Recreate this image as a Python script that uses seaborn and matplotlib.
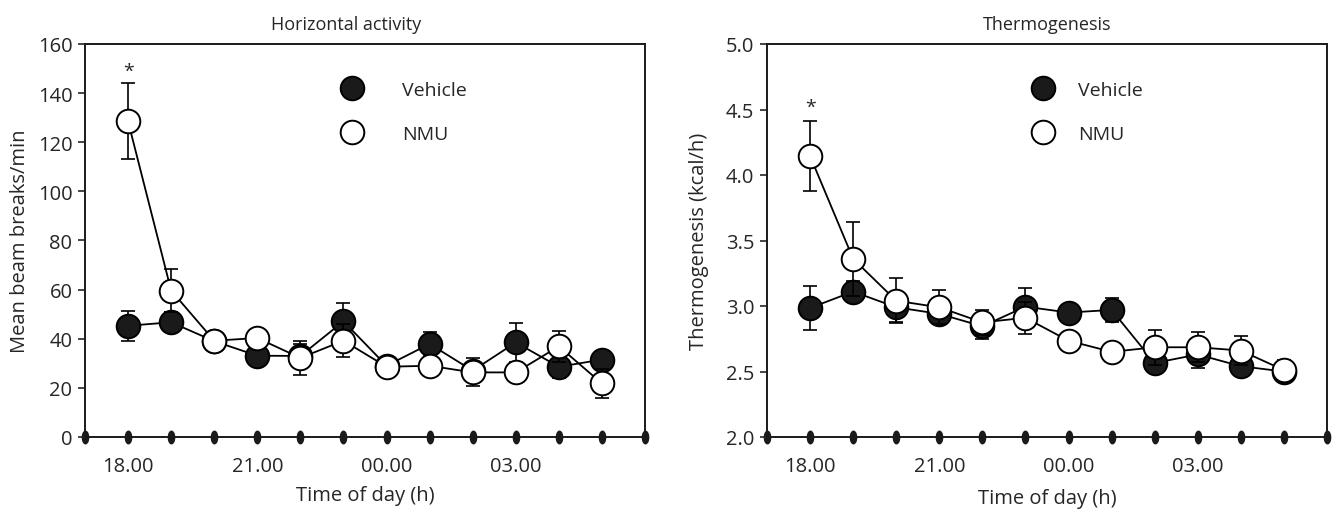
import numpy as np
import pandas as pd
import matplotlib
matplotlib.use("Agg")
import matplotlib.pyplot as plt
import seaborn as sns
from matplotlib.path import Path
from matplotlib.transforms import Affine2D
from matplotlib.lines import Line2D

# ---------------- data ----------------
hours = [18, 19, 20, 21, 22, 23, 24, 25, 26, 27, 28, 29]
tick_hours = list(range(17, 31))
tick_labels = {18: "18.00", 21: "21.00", 24: "00.00", 27: "03.00"}

act_vehicle = [45.3, 46.7, 39.0, 33.1, 33.0, 47.1, 29.0, 37.9, 27.0, 38.5, 28.6, 31.5]
act_vehicle_se = [6.2, 4.0, 2.5, 3.0, 5.0, 7.3, 2.0, 4.7, 3.0, 7.9, 4.5, 3.0]
act_nmu = [128.5, 59.6, 39.2, 40.3, 32.2, 39.2, 28.6, 29.0, 26.3, 26.3, 36.9, 21.8]
act_nmu_se = [15.5, 8.8, 2.0, 2.0, 6.8, 6.8, 2.0, 2.0, 5.7, 3.0, 6.4, 5.9]

th_vehicle = [2.985, 3.11, 2.99, 2.94, 2.845, 2.995, 2.95, 2.97, 2.565, 2.63, 2.54, 2.50]
th_vehicle_se = [0.17, 0.08, 0.11, 0.06, 0.095, 0.14, 0.04, 0.09, 0.05, 0.10, 0.04, 0.04]
th_nmu = [4.145, 3.36, 3.04, 2.99, 2.875, 2.91, 2.735, 2.65, 2.685, 2.685, 2.66, 2.51]
th_nmu_se = [0.27, 0.28, 0.17, 0.13, 0.095, 0.12, 0.04, 0.04, 0.135, 0.115, 0.11, 0.08]

groups = ["Vehicle", "NMU"]

# ---------------- style ----------------
sns.set_style("ticks")
plt.rcParams['font.family'] = ['Open Sans', 'DejaVu Sans']
plt.rcParams['axes.linewidth'] = 1.4

fig = plt.figure(figsize=(13.34, 5.10), dpi=100)
W, H = 1334, 510
ax1 = fig.add_axes([85 / W, (H - 438) / H, 560 / W, 393 / H])
ax2 = fig.add_axes([767 / W, (H - 438) / H, 560 / W, 393 / H])

ellipse = Path.unit_circle().transformed(Affine2D().scale(0.5, 1.0))

msize = 17
styles = {"Vehicle": dict(markerfacecolor="#1a1a1a", zorder=3),
          "NMU": dict(markerfacecolor="white", zorder=4)}


def draw(ax, veh, veh_se, nmu, nmu_se, ylim, yticks, yfmt, ylabel, title, title_x,
         star_off, leg_anchor, leg_pad, xlabelpad, ylabelpad):
    df = pd.DataFrame({
        "hour": hours * 2,
        "value": veh + nmu,
        "se": veh_se + nmu_se,
        "group": ["Vehicle"] * len(hours) + ["NMU"] * len(hours),
    })
    for g in groups:
        sub = df[df.group == g]
        ax.errorbar(sub.hour, sub.value, yerr=sub.se, fmt="none", ecolor="black",
                    elinewidth=1.2, capsize=5, capthick=1.2, zorder=styles[g]["zorder"] - 0.5)
        sns.lineplot(data=sub, x="hour", y="value", ax=ax, color="black", lw=1.3,
                     marker="o", markersize=msize, markeredgecolor="black",
                     markeredgewidth=1.4, markerfacecolor=styles[g]["markerfacecolor"],
                     zorder=styles[g]["zorder"], legend=False, errorbar=None)
    # significance star
    ax.text(hours[0], nmu[0] + nmu_se[0] + star_off, "*", ha="center", va="bottom",
            fontsize=14)

    ax.set_xlim(17, 30)
    ax.set_ylim(*ylim)
    ax.set_yticks(yticks)
    ax.set_yticklabels([yfmt.format(v) for v in yticks])
    ax.set_xticks(tick_hours)
    ax.set_xticklabels([tick_labels.get(h, "") for h in tick_hours])
    ax.tick_params(axis="y", direction="out", length=5, width=1.2, labelsize=14.5, pad=4)
    ax.tick_params(axis="x", labelsize=14.5, pad=5, length=9, width=1)
    for t in ax.xaxis.get_major_ticks():
        t.tick1line.set_marker(ellipse)
        t.tick1line.set_markersize(9)
        t.tick1line.set_markerfacecolor("#1a1a1a")
        t.tick1line.set_markeredgecolor("#1a1a1a")
        t.tick1line.set_clip_on(False)
    for s in ax.spines.values():
        s.set_visible(True)
        s.set_linewidth(1.4)
        s.set_color("#1a1a1a")
    ax.set_xlabel("Time of day (h)", fontsize=14.5, labelpad=xlabelpad)
    ax.set_ylabel(ylabel, fontsize=14.5, labelpad=ylabelpad)
    ax.set_title(title, fontsize=13, x=title_x, pad=11)

    handles = [Line2D([], [], ls="none", marker="o", markersize=msize,
                      markeredgecolor="black", markeredgewidth=1.4,
                      markerfacecolor=styles[g]["markerfacecolor"]) for g in groups]
    ax.legend(handles, groups, loc="upper left", bbox_to_anchor=leg_anchor,
              frameon=False, fontsize=14, handlelength=2, handletextpad=leg_pad,
              labelspacing=1.35, borderpad=0, borderaxespad=0)


draw(ax1, act_vehicle, act_vehicle_se, act_nmu, act_nmu_se, (0, 160),
     [0, 20, 40, 60, 80, 100, 120, 140, 160], "{:.0f}",
     "Mean beam breaks/min", "Horizontal activity", 0.466, 1.5,
     ((333 - 85) / 560, (438 - 82) / 393), 1.55, 6, 6)
draw(ax2, th_vehicle, th_vehicle_se, th_nmu, th_nmu_se, (2.0, 5.0),
     [2.0, 2.5, 3.0, 3.5, 4.0, 4.5, 5.0], "{:.1f}",
     "Thermogenesis (kcal/h)", "Thermogenesis", 0.5, 0.04,
     ((1024 - 767) / 560, (438 - 82) / 393), 0.8, 8, 12)

fig.savefig("out.png", dpi=100)
